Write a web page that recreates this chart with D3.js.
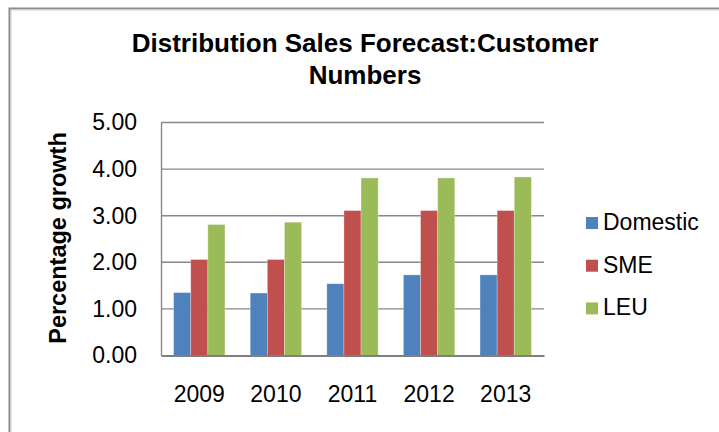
<!DOCTYPE html>
<html>
<head>
<meta charset="utf-8">
<script src="https://d3js.org/d3.v7.min.js"></script>
<style>
  html, body { margin: 0; padding: 0; background: #fff; }
  svg { display: block; }
  text { font-family: "Liberation Sans", Arial, sans-serif; fill: #000; }
</style>
</head>
<body>
<script>
// Customer-number growth forecast by segment
const years = ["2009", "2010", "2011", "2012", "2013"];
const seriesNames = ["Domestic", "SME", "LEU"];
const domestic = [1.35, 1.34, 1.54, 1.73, 1.73];
const sme = [2.06, 2.06, 3.11, 3.11, 3.11];
const leu = [2.81, 2.86, 3.81, 3.81, 3.83];
const yTicks = [0, 1, 2, 3, 4, 5];
const titleLines = ["Distribution Sales Forecast:Customer", "Numbers"];
const yLabel = "Percentage growth";

const seriesValues = [domestic, sme, leu];
const colors = ["#4F81BD", "#C0504D", "#9BBB59"];

const W = 719, H = 432;
const plot = { left: 161, right: 544, top: 122.5, bottom: 355.5 };

const svg = d3.select("body").append("svg")
  .attr("width", W).attr("height", H);

// chart-area frame
svg.append("rect")
  .attr("x", 9.5).attr("y", 8.5)
  .attr("width", W + 20).attr("height", H + 20)
  .attr("fill", "none").attr("stroke", "#8a8a8a").attr("stroke-width", 2);
svg.append("rect")
  .attr("x", 11).attr("y", 10)
  .attr("width", W + 20).attr("height", H + 20)
  .attr("fill", "none").attr("stroke", "#d0d0d0").attr("stroke-width", 1);

const x0 = d3.scaleBand()
  .domain(years)
  .range([plot.left, plot.right])
  .paddingInner(0.33)
  .paddingOuter(0.165);

const x1 = d3.scaleBand()
  .domain(seriesNames)
  .range([0, x0.bandwidth()]);

const y = d3.scaleLinear()
  .domain([0, 5])
  .range([plot.bottom, plot.top]);

// gridlines
svg.append("g")
  .selectAll("line")
  .data(yTicks.filter(d => d > 0))
  .join("line")
  .attr("x1", plot.left).attr("x2", plot.right)
  .attr("y1", d => y(d)).attr("y2", d => y(d))
  .attr("stroke", "#888").attr("stroke-width", 1.4);

// y axis
const yAxis = d3.axisLeft(y)
  .tickValues(yTicks)
  .tickFormat(d3.format(".2f"))
  .tickSize(0)
  .tickPadding(24);
const yg = svg.append("g")
  .attr("transform", `translate(${plot.left},0)`)
  .call(yAxis);
yg.select(".domain").attr("stroke", "#888").attr("stroke-width", 1.4);
yg.selectAll("text")
  .attr("font-size", 23)
  .attr("font-family", "Liberation Sans, Arial, sans-serif")
  .attr("fill", "#000");

// bars
const groups = svg.append("g")
  .selectAll("g")
  .data(years)
  .join("g")
  .attr("transform", d => `translate(${x0(d)},0)`);

groups.selectAll("rect")
  .data((yr, i) => seriesNames.map((s, k) => ({ s, k, v: seriesValues[k][i] })))
  .join("rect")
  .attr("x", d => x1(d.s))
  .attr("width", x1.bandwidth())
  .attr("y", d => y(d.v))
  .attr("height", d => y(0) - y(d.v))
  .attr("fill", d => colors[d.k])
  .attr("stroke", "rgba(255,255,255,0.35)")
  .attr("stroke-width", 0.8);

// x axis
const xAxis = d3.axisBottom(x0).tickSize(0).tickPadding(30);
const xg = svg.append("g")
  .attr("transform", `translate(0,${plot.bottom})`)
  .call(xAxis);
xg.select(".domain").attr("stroke", "#7f7f7f").attr("stroke-width", 2);
xg.selectAll("text")
  .attr("font-size", 23)
  .attr("font-family", "Liberation Sans, Arial, sans-serif")
  .attr("fill", "#000");

// title
svg.append("text")
  .attr("text-anchor", "middle")
  .attr("font-size", 26)
  .attr("font-weight", "bold")
  .selectAll("tspan")
  .data(titleLines)
  .join("tspan")
  .attr("x", 365)
  .attr("y", (d, i) => 52 + i * 31.5)
  .text(d => d);

// y axis title
svg.append("text")
  .attr("transform", `translate(66,238) rotate(-90)`)
  .attr("text-anchor", "middle")
  .attr("font-size", 23.5)
  .attr("font-weight", "bold")
  .text(yLabel);

// legend
const legend = svg.append("g")
  .selectAll("g")
  .data(seriesNames)
  .join("g")
  .attr("transform", (d, i) => `translate(586,${217 + i * 42.7})`);
legend.append("rect")
  .attr("width", 12).attr("height", 12)
  .attr("fill", (d, i) => colors[i]);
legend.append("text")
  .attr("x", 17).attr("y", 13)
  .attr("font-size", 23)
  .text(d => d);
</script>
</body>
</html>
